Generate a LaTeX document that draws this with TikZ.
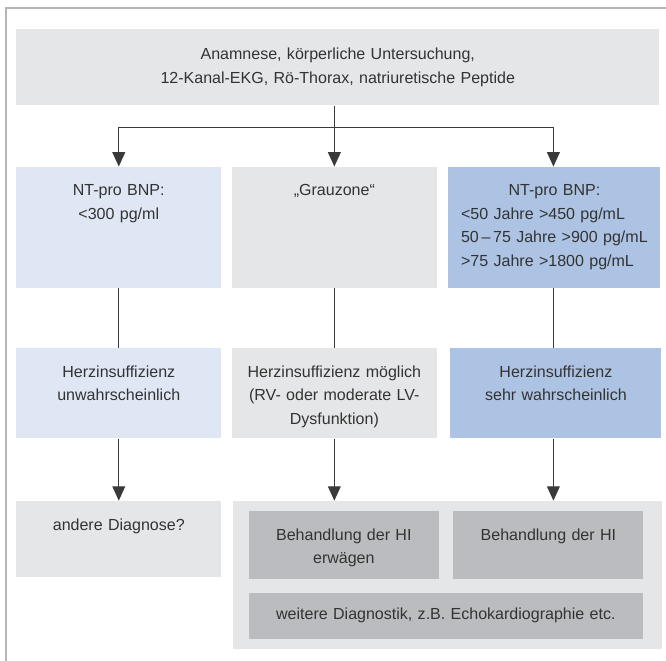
\documentclass[tikz,border=0pt]{standalone}
\usepackage{fontspec}
\setmainfont{Liberation Sans}
\usepackage{xcolor}
\usetikzlibrary{positioning, arrows.meta, calc}

\definecolor{boxgray}{HTML}{E5E6E8}
\definecolor{paleblue}{HTML}{DFE7F4}
\definecolor{midblue}{HTML}{ADC3E3}
\definecolor{treatgray}{HTML}{BBBCBF}
\definecolor{framegray}{HTML}{B5B5B5}
\definecolor{linegray}{HTML}{3A3A3A}
\definecolor{textgray}{HTML}{333333}

\begin{document}
\begin{tikzpicture}[
    font=\fontsize{11.4pt}{16.7pt}\selectfont,
    box/.style={
        fill=boxgray,
        text=textgray,
        inner sep=0pt,
        align=center
    },
    col/.style={
        box,
        text width=5.125cm
    },
    rowone/.style={text height=0.72cm, text depth=2.305cm},
    rowtwo/.style={text height=0.72cm, text depth=1.53cm},
    rowthree/.style={text height=0.74cm, text depth=1.16cm},
    treat/.style={
        box,
        fill=treatgray,
        text width=4.75cm,
        text height=0.735cm,
        text depth=0.965cm
    },
    arrow/.style={
        draw=linegray,
        line width=0.9pt,
        -{Triangle[width=0.32cm, length=0.36cm]}
    },
    conn/.style={draw=linegray, line width=0.9pt}
]

\useasboundingbox (0,0) rectangle (16.65,-16.525);

% Frame
\draw[framegray, line width=1.4pt] (0.1575,-16.525) |- (16.65,-0.2075);

% ==========================================
% FIRST STEP
% ==========================================
\node[box, text width=16.075cm, minimum height=1.9cm, anchor=north west] (top) at (0.4,-0.725)
    {Anamnese, körperliche Untersuchung,\\12-Kanal-EKG, Rö-Thorax, natriuretische Peptide};

% ==========================================
% NT-PRO BNP
% ==========================================
\node[col, rowone, fill=paleblue, below=1.525cm of top.south west, anchor=north west] (l1)
    {NT-pro BNP:\\<300 pg/ml};
\node[col, rowone, right=0.25cm of l1] (m1) {„Grauzone“};
\node[col, rowone, fill=midblue, text width=5.3cm, right=0.275cm of m1] (r1)
    {NT-pro BNP:\\
     \begin{tabular}[t]{@{}l@{}}
     <50 Jahre >450 pg/mL\\
     50\,–\,75 Jahre >900 pg/mL\\
     >75 Jahre >1800 pg/mL
     \end{tabular}};

% ==========================================
% ASSESSMENT
% ==========================================
\node[col, rowtwo, fill=paleblue, below=1.5cm of l1] (l2) {Herzinsuffizienz\\unwahrscheinlich};
\node[col, rowtwo, below=1.5cm of m1] (m2) {Herzinsuffizienz möglich\\(RV- oder moderate LV-\\Dysfunktion)};
\node[col, rowtwo, fill=midblue, text width=5.275cm, below=1.5cm of r1.south west, anchor=north west, xshift=0.05cm] (r2)
    {Herzinsuffizienz\\sehr wahrscheinlich};

% ==========================================
% CONSEQUENCE
% ==========================================
\node[col, rowthree, below=1.55cm of l2] (l3) {andere Diagnose?};

% container for treatment
\node[box, minimum width=10.725cm, minimum height=3.7cm, below=1.55cm of m2.south west, anchor=north west, xshift=0.025cm] (hi) {};
\node[treat, below right=0.25cm and 0.4cm of hi.north west, anchor=north west] (hia) {Behandlung der HI\\erwägen};
\node[treat, right=0.35cm of hia] (hib) {Behandlung der HI};
\node[box, fill=treatgray, text width=9.85cm, minimum height=1.15cm, below=0.325cm of hia.south west, anchor=north west] (diag)
    {weitere Diagnostik, z.B. Echokardiographie etc.};

% Connecting Arrows
\draw[arrow] (top.south -| m1.north) -- (m1.north);
\coordinate (fork) at ($(top.south -| m1.north)+(0,-0.55cm)$);
\draw[arrow] (fork) -| (l1.north);
\draw[arrow] (fork) -| ([xshift=-0.025cm]r1.north);

\draw[conn] (l1) -- (l2);
\draw[conn] (m1) -- (m2);
\draw[conn] ([xshift=-0.025cm]r1.south) -- ([xshift=-0.025cm]r1.south |- r2.north);

\draw[arrow] (l2) -- (l3);
\draw[arrow] (m2.south) -- (m2.south |- hi.north);
\draw[arrow] ([xshift=-0.025cm]r1.south |- r2.south) -- ([xshift=-0.025cm]r1.south |- hi.north);

\end{tikzpicture}
\end{document}
